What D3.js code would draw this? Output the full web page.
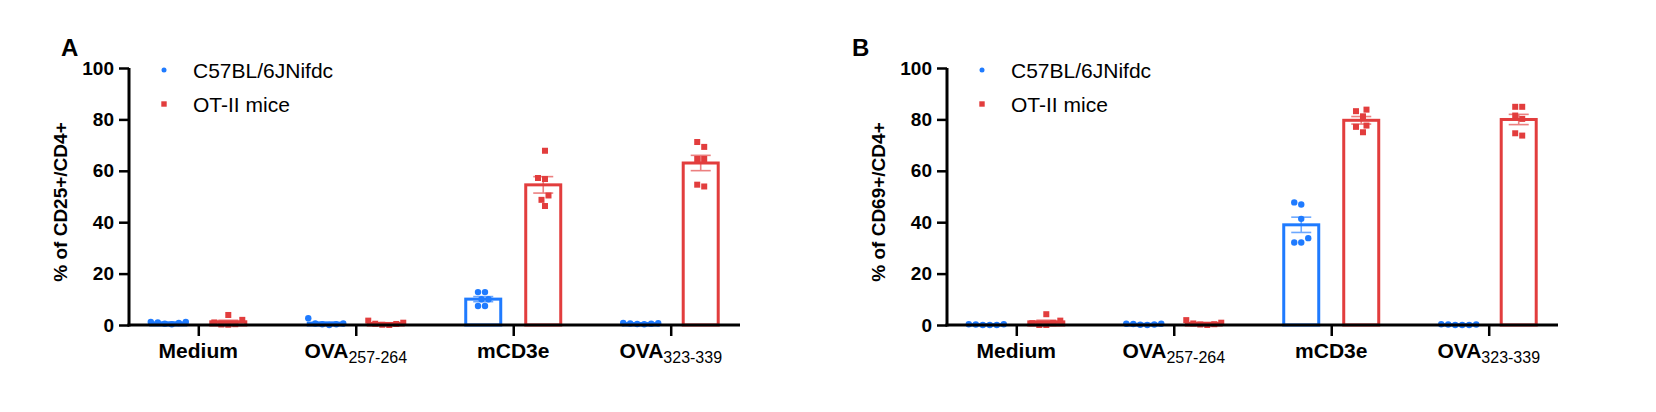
<!DOCTYPE html>
<html>
<head>
<meta charset="utf-8">
<script src="https://cdn.jsdelivr.net/npm/d3@7"></script>
<style>
  body { margin:0; background:#fff; }
  svg text { font-family:"Liberation Sans", Arial, sans-serif; fill:#000; }
</style>
</head>
<body>
<div id="chart"></div>
<script>
var W=1656, H=412;

// categories on the x axis (main text + subscript)
var catMain=["Medium","OVA","mCD3e","OVA"];
var catSub=["","257-264","","323-339"];
var seriesNames=["C57BL/6JNifdc","OT-II mice"];
var seriesColors=["#1f7bff","#e23d3d"];
var yTicks=[0,20,40,60,80,100];

// panel A: % of CD25+/CD4+ (6 mice per group)
var cd25_wt=[[0.5,1.2,1.0,1.2,0.3,0.8],[0.3,0.6,0.3,0.6,2.6,0.0],[12.8,12.8,10.0,10.0,7.4,7.4],[0.3,0.8,0.4,0.7,0.5,0.6]];
var cd25_ot=[[0.3,2.0,3.9,0.2,1.0,0.1],[0.1,1.7,0.4,0.9,0.0,0.5],[67.8,57.2,56.8,50.4,48.7,46.3],[69.3,71.2,64.6,64.6,53.9,54.6]];
// panel B: % of CD69+/CD4+
var cd69_wt=[[0.0,0.3,0.2,0.3,0.0,0.0],[0.1,0.5,0.4,0.5,0.0,0.2],[46.9,47.7,41.3,33.8,32.1,32.1],[0.0,0.3,0.2,0.2,0.0,0.0]];
var cd69_ot=[[0.0,1.7,4.2,0.7,0.7,0.0],[0.2,1.9,0.3,0.9,0.0,0.6],[83.2,83.8,81.2,77.6,77.1,75.0],[84.9,84.9,80.2,81.5,73.7,74.6]];

var svg=d3.select("#chart").append("svg").attr("width",W).attr("height",H);

function sem(a){ return d3.deviation(a)/Math.sqrt(a.length); }

// simple beeswarm: horizontal offsets so dots don't overlap
function swarm(vals,y){
  var sorted=vals.map(function(v){return {v:v,py:y(v)};}).sort(function(a,b){return a.v-b.v;});
  var placed=[], step=3.5, minD=7;
  sorted.forEach(function(p){
    for(var k=0;k<40;k++){
      var cands=k==0?[0]:[-k*step,k*step];
      var ok=null;
      for(var c=0;c<cands.length;c++){
        var dx=cands[c];
        if(placed.every(function(q){return Math.hypot(q.dx-dx,q.py-p.py)>=minD;})){ ok=dx; break; }
      }
      if(ok!==null){ p.dx=ok; break; }
    }
    placed.push(p);
  });
  var shift=(d3.max(placed,function(p){return p.dx;})+d3.min(placed,function(p){return p.dx;}))/2;
  placed.forEach(function(p){ p.dx-=shift; });
  return placed;
}

function drawPanel(off,letter,letterX,yLabel,wt,ot){
  var g=svg.append("g").attr("transform","translate("+off+",0)");
  var x0=129, x1=740;
  var y=d3.scaleLinear().domain([0,100]).range([325,68]);
  var x=d3.scalePoint().domain(d3.range(catMain.length)).range([x0,x1]).padding(0.44);
  var grp=[-30,30];

  svg.append("text").attr("x",letterX).attr("y",56)
     .attr("font-size",24).attr("font-weight","bold").text(letter);

  // y axis label
  g.append("text")
   .attr("transform","translate(60.5,202)rotate(-90)")
   .attr("text-anchor","middle").attr("dominant-baseline","central")
   .attr("font-size",19).attr("font-weight","bold").text(yLabel);

  // legend
  var leg=g.append("g");
  leg.append("circle").attr("cx",164).attr("cy",70).attr("r",2.5).attr("fill",seriesColors[0]);
  leg.append("rect").attr("x",161.3).attr("y",101.3).attr("width",5.4).attr("height",5.4).attr("fill",seriesColors[1]);
  leg.selectAll("text").data(seriesNames).enter().append("text")
     .attr("x",193).attr("y",function(d,i){return i==0?70:104;})
     .attr("dominant-baseline","central").attr("font-size",21).text(function(d){return d;});

  // bars, error bars and dots
  [wt,ot].forEach(function(series,si){
    var col=seriesColors[si];
    series.forEach(function(vals,ci){
      var cx=x(ci)+grp[si];
      var m=d3.mean(vals), s=sem(vals);
      g.append("rect").attr("x",cx-17.5).attr("y",y(m)).attr("width",35).attr("height",y(0)-y(m))
       .attr("fill","none").attr("stroke",col).attr("stroke-width",3);
      var eb=g.append("g").attr("stroke",col).attr("stroke-width",1.6).attr("opacity",0.65);
      eb.append("line").attr("x1",cx).attr("x2",cx).attr("y1",y(m-s)).attr("y2",y(m+s));
      eb.append("line").attr("x1",cx-10).attr("x2",cx+10).attr("y1",y(m+s)).attr("y2",y(m+s));
      eb.append("line").attr("x1",cx-10).attr("x2",cx+10).attr("y1",y(m-s)).attr("y2",y(m-s));
      var pts=swarm(vals,y);
      if(si==0){
        g.selectAll(null).data(pts).enter().append("circle")
         .attr("cx",function(p){return cx+p.dx;}).attr("cy",function(p){return p.py;})
         .attr("r",3.2).attr("fill",col);
      } else {
        g.selectAll(null).data(pts).enter().append("rect")
         .attr("x",function(p){return cx+p.dx-3;}).attr("y",function(p){return p.py-3;})
         .attr("width",6).attr("height",6).attr("fill",col);
      }
    });
  });

  // axes
  var ya=g.append("g").attr("transform","translate("+x0+",0)")
    .call(d3.axisLeft(y).tickValues(yTicks).tickSize(10).tickPadding(5));
  ya.select(".domain").attr("stroke","#000").attr("stroke-width",3).attr("d","M0,"+(y(0)+1.5)+"V"+y(100));
  ya.selectAll(".tick line").attr("stroke","#000").attr("stroke-width",2.5);
  ya.selectAll(".tick text").attr("font-size",19).attr("font-weight","bold")
    .attr("font-family","Liberation Sans, Arial, sans-serif").attr("fill","#000");

  var xa=g.append("g").attr("transform","translate(0,"+y(0)+")")
    .call(d3.axisBottom(x).tickSize(11).tickFormat(""));
  xa.select(".domain").attr("stroke","#000").attr("stroke-width",3).attr("d","M"+(x0-1.5)+",0H"+x1);
  xa.selectAll(".tick line").attr("stroke","#000").attr("stroke-width",2.5);

  var lab=g.selectAll(".clab").data(catMain).enter().append("text").attr("class","clab")
    .attr("x",function(d,i){return x(i);}).attr("y",358)
    .attr("text-anchor","middle");
  lab.append("tspan").attr("font-size",21).attr("font-weight","bold").text(function(d){return d;});
  lab.append("tspan").attr("font-size",16).attr("dy",5).text(function(d,i){return catSub[i];});
}

drawPanel(0,"A",61,"% of CD25+/CD4+",cd25_wt,cd25_ot);
drawPanel(818,"B",852,"% of CD69+/CD4+",cd69_wt,cd69_ot);
</script>
</body>
</html>
